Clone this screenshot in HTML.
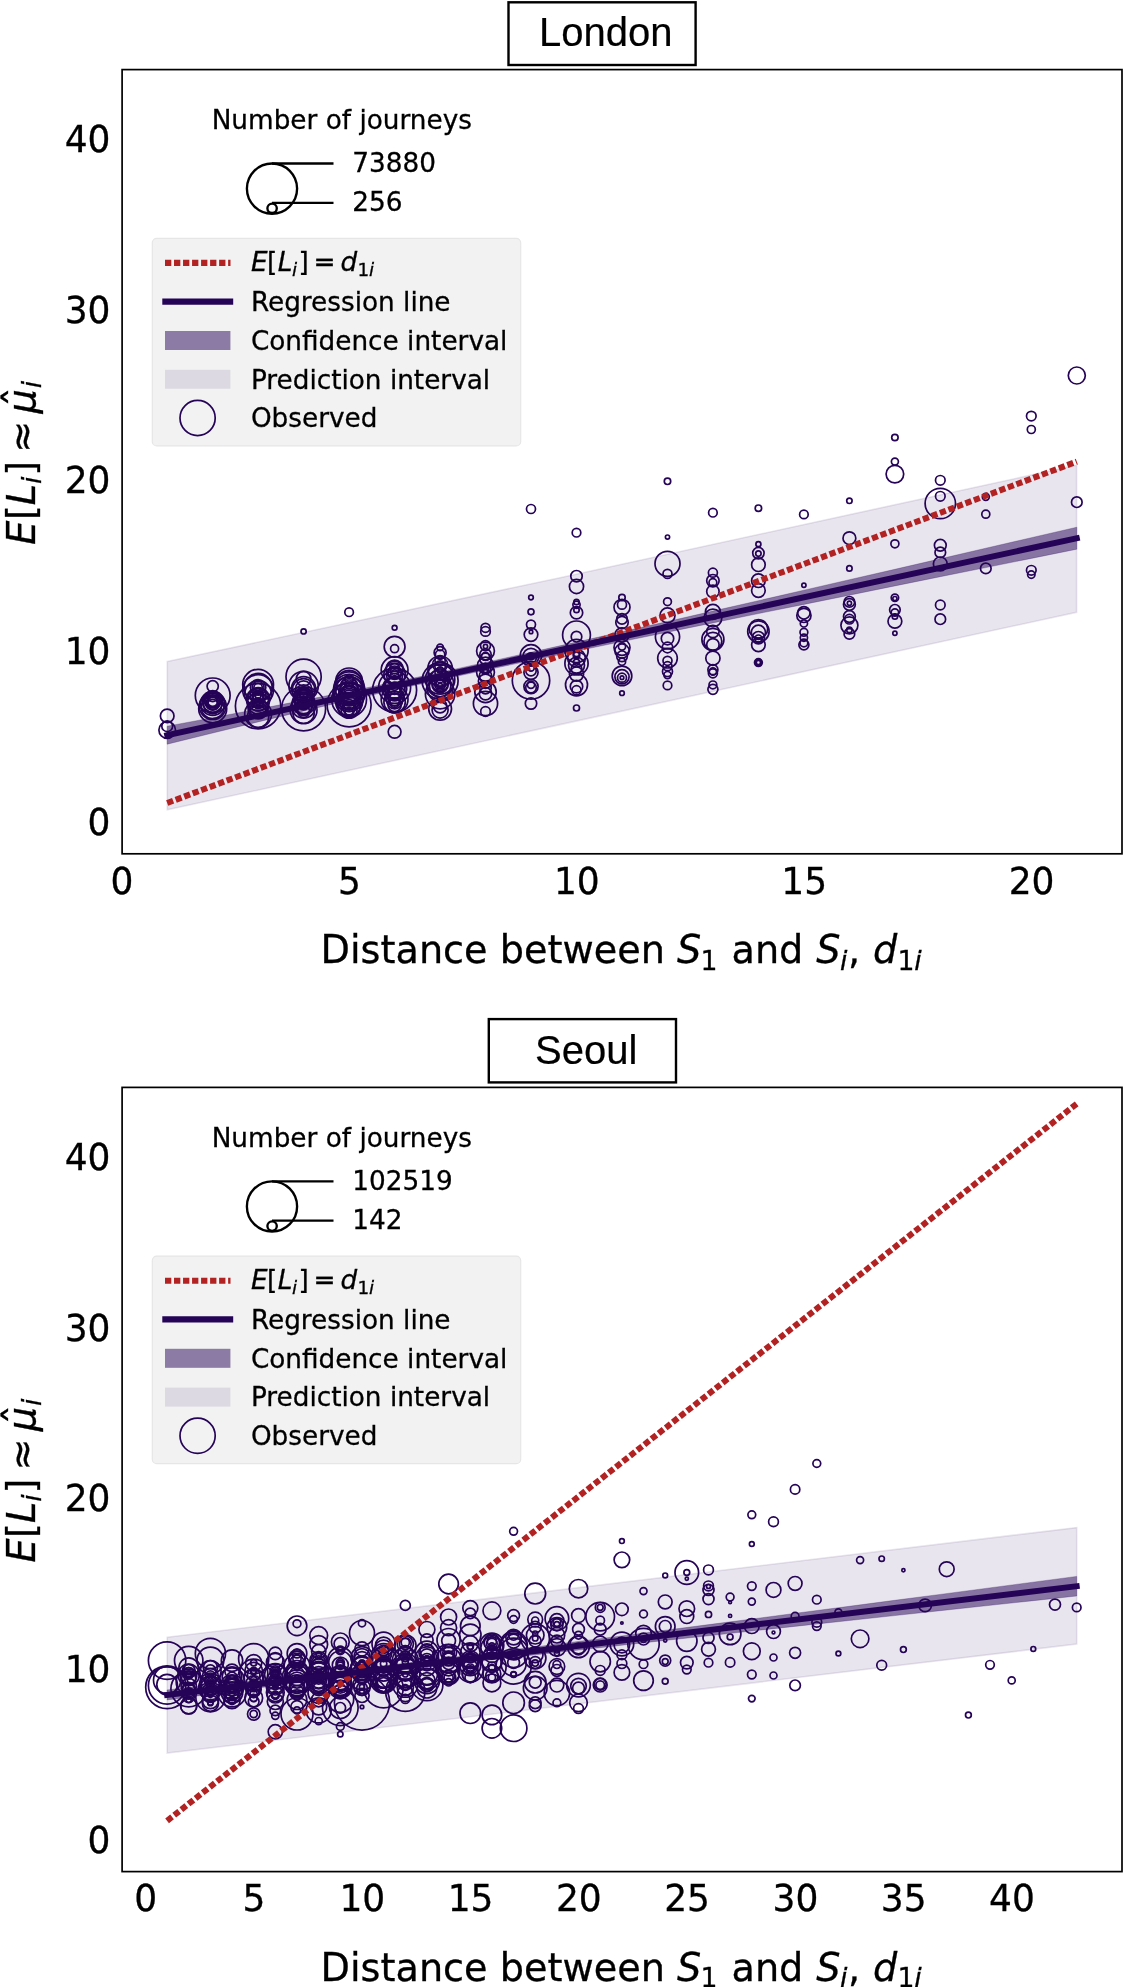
<!DOCTYPE html>
<html lang="en">
<head>
<meta charset="utf-8">
<title>Expected journey length vs distance: London and Seoul</title>
<style>
html,body{margin:0;padding:0;background:#fff;}
body{width:1123px;height:1987px;overflow:hidden;}
svg{display:block;will-change:transform;}
text{font-family:"DejaVu Sans","Liberation Sans",sans-serif;fill:#000;stroke:#000;stroke-width:0.3px;}
.tk text{font-size:36px;}
.lb text,.lb{font-size:38.2px;}
.lg text,.lg{font-size:26.3px;}
.tt{font-family:"Liberation Sans",Arial,sans-serif;font-size:40px;stroke-width:0.2px;}
.it{font-style:italic;}
.lb text.sub{font-size:26.7px;}
.lg text.sub2{font-size:18.4px;}
.lb text.hat{font-size:40px;}
</style>
</head>
<body>
<svg width="1123" height="1987" viewBox="0 0 1123 1987">
<rect width="1123" height="1987" fill="#fff"/>
<!-- London panel -->
<g id="london">
<polygon points="167.3,661.5 560,577.7 1076.6,465.2 1076.6,612.3 560,724.6 167.3,809.8" fill="#250357" fill-opacity="0.1" stroke="#250357" stroke-opacity="0.1" stroke-width="1.6" stroke-linejoin="miter"/>
<polygon points="167.2,726.2 212.7,717.7 258.1,709.1 303.6,700.3 349.1,691.4 394.6,682.1 440.1,672.4 485.5,662.4 531,652.3 576.5,642.1 622,631.8 667.5,621.5 712.9,611.1 758.4,600.7 803.9,590.2 849.4,579.7 894.9,569.3 940.3,558.8 985.8,548.2 1031.3,537.7 1076.8,527.2 1076.8,549.2 1031.3,558.4 985.8,567.6 940.3,576.7 894.9,585.9 849.4,595.2 803.9,604.4 758.4,613.6 712.9,622.9 667.5,632.2 622,641.6 576.5,651 531,660.5 485.5,670.1 440.1,679.8 394.6,689.8 349.1,700.2 303.6,711 258.1,721.9 212.7,733 167.2,744.2" fill="#250357" fill-opacity="0.5" stroke="#250357" stroke-opacity="0.25" stroke-width="1"/>
<g fill="none" stroke="#250357" stroke-width="1.7">
<circle cx="167.2" cy="715.9" r="6.8"/>
<circle cx="167.2" cy="730" r="8.3"/>
<circle cx="167.2" cy="726.2" r="5.4"/>
<circle cx="212.7" cy="695.4" r="17.4"/>
<circle cx="212.7" cy="686.3" r="5.6"/>
<circle cx="212.7" cy="701.4" r="8"/>
<circle cx="212.7" cy="702.1" r="10"/>
<circle cx="212.7" cy="703.4" r="12"/>
<circle cx="212.7" cy="706.1" r="13.4"/>
<circle cx="212.7" cy="708.8" r="14"/>
<circle cx="212.7" cy="703.4" r="6.7"/>
<circle cx="212.7" cy="707.4" r="11.4"/>
<circle cx="212.7" cy="704.8" r="9.1"/>
<circle cx="258.1" cy="684.7" r="15.4"/>
<circle cx="258.1" cy="687.4" r="14"/>
<circle cx="258.1" cy="690.1" r="15.4"/>
<circle cx="258.1" cy="694.1" r="13.4"/>
<circle cx="258.1" cy="696.1" r="8"/>
<circle cx="258.1" cy="696.1" r="2.7"/>
<circle cx="258.1" cy="696.7" r="6"/>
<circle cx="258.1" cy="706.1" r="22.7"/>
<circle cx="258.1" cy="703.4" r="10.7"/>
<circle cx="258.1" cy="708.8" r="10"/>
<circle cx="258.1" cy="714.1" r="13.4"/>
<circle cx="258.1" cy="716.8" r="10.7"/>
<circle cx="258.1" cy="703.4" r="5.3"/>
<circle cx="258.1" cy="710.1" r="8"/>
<circle cx="303.6" cy="676.7" r="17.6"/>
<circle cx="303.6" cy="678.7" r="7.3"/>
<circle cx="303.6" cy="686.1" r="14.7"/>
<circle cx="303.6" cy="688.7" r="12"/>
<circle cx="303.6" cy="694.1" r="9.3"/>
<circle cx="303.6" cy="696.1" r="6.7"/>
<circle cx="303.6" cy="696.7" r="4"/>
<circle cx="303.6" cy="708.8" r="22"/>
<circle cx="303.6" cy="706.1" r="12"/>
<circle cx="303.6" cy="710.1" r="13.4"/>
<circle cx="303.6" cy="712.8" r="10.7"/>
<circle cx="303.6" cy="703.4" r="11.4"/>
<circle cx="303.6" cy="700.8" r="8"/>
<circle cx="303.6" cy="698.1" r="10"/>
<circle cx="303.6" cy="707.4" r="8"/>
<circle cx="303.6" cy="711.4" r="6"/>
<circle cx="349.1" cy="704.8" r="22"/>
<circle cx="349.1" cy="681.4" r="13.4"/>
<circle cx="349.1" cy="690.1" r="13.4"/>
<circle cx="349.1" cy="692.8" r="16"/>
<circle cx="349.1" cy="696.8" r="14.7"/>
<circle cx="349.1" cy="699.5" r="17.4"/>
<circle cx="349.1" cy="702.1" r="13.4"/>
<circle cx="349.1" cy="704.8" r="12"/>
<circle cx="349.1" cy="707.5" r="10.7"/>
<circle cx="349.1" cy="688.8" r="5.3"/>
<circle cx="349.1" cy="710.1" r="8"/>
<circle cx="349.1" cy="704.8" r="5.3"/>
<circle cx="349.1" cy="711.5" r="4"/>
<circle cx="349.1" cy="694.1" r="9.3"/>
<circle cx="349.1" cy="698.1" r="11.4"/>
<circle cx="349.1" cy="700.8" r="8"/>
<circle cx="349.1" cy="708.8" r="6"/>
<circle cx="349.1" cy="687.4" r="8.7"/>
<circle cx="394.6" cy="646.7" r="10.4"/>
<circle cx="394.6" cy="648.7" r="4"/>
<circle cx="394.6" cy="670.1" r="13.4"/>
<circle cx="394.6" cy="674.1" r="10.7"/>
<circle cx="394.6" cy="672.7" r="6.7"/>
<circle cx="394.6" cy="671.4" r="4"/>
<circle cx="394.6" cy="690.1" r="22"/>
<circle cx="394.6" cy="687.4" r="16"/>
<circle cx="394.6" cy="699.5" r="13.4"/>
<circle cx="394.6" cy="702.1" r="10.7"/>
<circle cx="394.6" cy="700.8" r="8"/>
<circle cx="394.6" cy="704.8" r="6.7"/>
<circle cx="394.6" cy="675.4" r="8"/>
<circle cx="394.6" cy="731.8" r="6.4"/>
<circle cx="394.6" cy="696.8" r="9.3"/>
<circle cx="394.6" cy="702.8" r="4.7"/>
<circle cx="394.6" cy="670.1" r="8.7"/>
<circle cx="394.6" cy="699.5" r="6"/>
<circle cx="440.1" cy="647.4" r="3.3"/>
<circle cx="440.1" cy="652.7" r="6"/>
<circle cx="440.1" cy="654.7" r="4.7"/>
<circle cx="440.1" cy="666.1" r="5.3"/>
<circle cx="440.1" cy="680.8" r="18"/>
<circle cx="440.1" cy="679.4" r="14.7"/>
<circle cx="440.1" cy="683.4" r="13.4"/>
<circle cx="440.1" cy="686.1" r="10.7"/>
<circle cx="440.1" cy="683.4" r="8"/>
<circle cx="440.1" cy="684.8" r="5.3"/>
<circle cx="440.1" cy="686.1" r="2.7"/>
<circle cx="440.1" cy="708.8" r="11.4"/>
<circle cx="440.1" cy="710.1" r="8"/>
<circle cx="440.1" cy="706.1" r="6.7"/>
<circle cx="440.1" cy="674.1" r="12"/>
<circle cx="440.1" cy="694.1" r="14.7"/>
<circle cx="440.1" cy="688.8" r="12.7"/>
<circle cx="440.1" cy="678.1" r="9.3"/>
<circle cx="303.6" cy="631.4" r="2.6"/>
<circle cx="349.1" cy="612.2" r="4.3"/>
<circle cx="394.6" cy="627.7" r="2.4"/>
<circle cx="485.5" cy="627.8" r="4.5"/>
<circle cx="485.5" cy="631.4" r="4.8"/>
<circle cx="485.5" cy="645.6" r="5"/>
<circle cx="485.5" cy="646.5" r="2.1"/>
<circle cx="485.5" cy="651" r="8.9"/>
<circle cx="485.5" cy="656.3" r="3.9"/>
<circle cx="485.5" cy="665.2" r="8"/>
<circle cx="485.5" cy="672.3" r="8.9"/>
<circle cx="485.5" cy="675.9" r="6.2"/>
<circle cx="485.5" cy="691.9" r="10.7"/>
<circle cx="485.5" cy="693.7" r="6.2"/>
<circle cx="485.5" cy="703.5" r="12.1"/>
<circle cx="485.5" cy="711.5" r="4.8"/>
<circle cx="485.5" cy="681.2" r="7.1"/>
<circle cx="485.5" cy="668.8" r="5.3"/>
<circle cx="531" cy="509" r="4.5"/>
<circle cx="531" cy="597.5" r="2.3"/>
<circle cx="531" cy="611.8" r="3"/>
<circle cx="531" cy="624.6" r="4.5"/>
<circle cx="531" cy="631.9" r="1.8"/>
<circle cx="531" cy="634.6" r="6.8"/>
<circle cx="531" cy="655.4" r="10.7"/>
<circle cx="531" cy="656.3" r="8"/>
<circle cx="531" cy="658.1" r="5.3"/>
<circle cx="531" cy="680.4" r="18.7"/>
<circle cx="531" cy="672.3" r="7.1"/>
<circle cx="531" cy="686.6" r="7.1"/>
<circle cx="531" cy="687.5" r="5.3"/>
<circle cx="531" cy="684.8" r="3.6"/>
<circle cx="531" cy="703.5" r="5.7"/>
<circle cx="576.5" cy="532.7" r="4.3"/>
<circle cx="576.5" cy="576.2" r="5.7"/>
<circle cx="576.5" cy="586.5" r="7.1"/>
<circle cx="576.5" cy="602" r="2.7"/>
<circle cx="576.5" cy="604.7" r="3.6"/>
<circle cx="576.5" cy="610" r="2.7"/>
<circle cx="576.5" cy="612.7" r="6.2"/>
<circle cx="576.5" cy="634.9" r="13.9"/>
<circle cx="576.5" cy="636.7" r="5.3"/>
<circle cx="576.5" cy="651" r="11.6"/>
<circle cx="576.5" cy="663.4" r="11.6"/>
<circle cx="576.5" cy="665.2" r="8"/>
<circle cx="576.5" cy="668.8" r="5.3"/>
<circle cx="576.5" cy="674.1" r="7.1"/>
<circle cx="576.5" cy="684.8" r="11"/>
<circle cx="576.5" cy="686.6" r="6.2"/>
<circle cx="576.5" cy="690.2" r="4.5"/>
<circle cx="576.5" cy="708" r="3"/>
<circle cx="576.5" cy="658.1" r="8.9"/>
<circle cx="622" cy="597.5" r="3.2"/>
<circle cx="622" cy="607.3" r="8"/>
<circle cx="622" cy="604.7" r="4.5"/>
<circle cx="622" cy="618.9" r="5.3"/>
<circle cx="622" cy="622.5" r="6.2"/>
<circle cx="622" cy="634.9" r="7.1"/>
<circle cx="622" cy="647.4" r="8"/>
<circle cx="622" cy="646.5" r="3.6"/>
<circle cx="622" cy="656.3" r="5.3"/>
<circle cx="622" cy="661.7" r="3.6"/>
<circle cx="622" cy="675.9" r="9.8"/>
<circle cx="622" cy="676.8" r="7.1"/>
<circle cx="622" cy="677.7" r="4.5"/>
<circle cx="622" cy="677.7" r="1.8"/>
<circle cx="622" cy="693.2" r="2.3"/>
<circle cx="622" cy="651" r="7.1"/>
<circle cx="667.5" cy="481.3" r="3.2"/>
<circle cx="667.5" cy="537.1" r="2.1"/>
<circle cx="667.5" cy="563.8" r="12.5"/>
<circle cx="667.5" cy="573.9" r="4.5"/>
<circle cx="667.5" cy="601.7" r="3.9"/>
<circle cx="667.5" cy="615.4" r="7.5"/>
<circle cx="667.5" cy="636.8" r="12.1"/>
<circle cx="667.5" cy="638.6" r="6.2"/>
<circle cx="667.5" cy="647.5" r="5.3"/>
<circle cx="667.5" cy="658.2" r="9.8"/>
<circle cx="667.5" cy="660.8" r="4.5"/>
<circle cx="667.5" cy="666.2" r="4.5"/>
<circle cx="667.5" cy="671.5" r="5"/>
<circle cx="667.5" cy="675.1" r="3.6"/>
<circle cx="667.5" cy="685.4" r="4.3"/>
<circle cx="712.9" cy="512.7" r="4.3"/>
<circle cx="712.9" cy="572.7" r="4.5"/>
<circle cx="712.9" cy="580.7" r="6.2"/>
<circle cx="712.9" cy="582.5" r="3.9"/>
<circle cx="712.9" cy="591.4" r="6.2"/>
<circle cx="712.9" cy="611.9" r="7.5"/>
<circle cx="712.9" cy="618.1" r="8.9"/>
<circle cx="712.9" cy="631.5" r="6.2"/>
<circle cx="712.9" cy="639.5" r="11"/>
<circle cx="712.9" cy="641.2" r="8.9"/>
<circle cx="712.9" cy="644.8" r="6.2"/>
<circle cx="712.9" cy="658.2" r="7.1"/>
<circle cx="712.9" cy="669.7" r="5"/>
<circle cx="712.9" cy="671.5" r="3.6"/>
<circle cx="712.9" cy="673.3" r="4.5"/>
<circle cx="712.9" cy="684.9" r="3.9"/>
<circle cx="712.9" cy="689.3" r="5"/>
<circle cx="758.4" cy="508.2" r="3.2"/>
<circle cx="758.4" cy="544.2" r="2.5"/>
<circle cx="758.4" cy="553.1" r="5.7"/>
<circle cx="758.4" cy="553.6" r="2.7"/>
<circle cx="758.4" cy="564.7" r="6.8"/>
<circle cx="758.4" cy="580.7" r="6.8"/>
<circle cx="758.4" cy="590.5" r="6.8"/>
<circle cx="758.4" cy="628.8" r="9.3"/>
<circle cx="758.4" cy="631.5" r="10.7"/>
<circle cx="758.4" cy="632.3" r="7.1"/>
<circle cx="758.4" cy="637.7" r="6.2"/>
<circle cx="758.4" cy="638.6" r="3.6"/>
<circle cx="758.4" cy="644.8" r="6.8"/>
<circle cx="758.4" cy="662.6" r="3.9"/>
<circle cx="758.4" cy="662.6" r="3"/>
<circle cx="758.4" cy="662.6" r="2.1"/>
<circle cx="803.9" cy="514.4" r="4.3"/>
<circle cx="803.9" cy="585.3" r="2.1"/>
<circle cx="803.9" cy="612.8" r="6.2"/>
<circle cx="803.9" cy="615.4" r="7.1"/>
<circle cx="803.9" cy="623.4" r="3.6"/>
<circle cx="803.9" cy="632.3" r="3.9"/>
<circle cx="803.9" cy="637.7" r="3.6"/>
<circle cx="803.9" cy="643" r="3.9"/>
<circle cx="803.9" cy="644.8" r="5"/>
<circle cx="849.4" cy="500.8" r="2.7"/>
<circle cx="849.4" cy="538.2" r="6.4"/>
<circle cx="849.4" cy="568.4" r="2.7"/>
<circle cx="849.4" cy="601.8" r="5.3"/>
<circle cx="849.4" cy="604.5" r="5.9"/>
<circle cx="849.4" cy="616.5" r="5.9"/>
<circle cx="849.4" cy="619.2" r="4.8"/>
<circle cx="849.4" cy="625.3" r="8.5"/>
<circle cx="849.4" cy="629.9" r="2.7"/>
<circle cx="849.4" cy="633.9" r="5.3"/>
<circle cx="849.4" cy="603.2" r="2.1"/>
<circle cx="894.9" cy="437.5" r="3.2"/>
<circle cx="894.9" cy="461.6" r="3.5"/>
<circle cx="894.9" cy="474.1" r="8.8"/>
<circle cx="894.9" cy="543.8" r="4"/>
<circle cx="894.9" cy="597.8" r="3.7"/>
<circle cx="894.9" cy="598.6" r="2.1"/>
<circle cx="894.9" cy="609.8" r="5.3"/>
<circle cx="894.9" cy="612.5" r="3.7"/>
<circle cx="894.9" cy="616.5" r="2.7"/>
<circle cx="894.9" cy="621.3" r="6.9"/>
<circle cx="894.9" cy="633.3" r="2.1"/>
<circle cx="940.3" cy="480.3" r="4.8"/>
<circle cx="940.3" cy="496.3" r="4.8"/>
<circle cx="940.3" cy="503.5" r="15.2"/>
<circle cx="940.3" cy="545.2" r="5.9"/>
<circle cx="940.3" cy="552.4" r="5.3"/>
<circle cx="940.3" cy="563.9" r="6.9"/>
<circle cx="940.3" cy="605" r="4.8"/>
<circle cx="940.3" cy="619.2" r="5.3"/>
<circle cx="985.8" cy="496.8" r="3.5"/>
<circle cx="985.8" cy="514.2" r="4"/>
<circle cx="985.8" cy="568.4" r="5.3"/>
<circle cx="1031.3" cy="416.1" r="4.8"/>
<circle cx="1031.3" cy="429.5" r="4"/>
<circle cx="1031.3" cy="570.3" r="4.8"/>
<circle cx="1031.3" cy="574.6" r="3.7"/>
<circle cx="1076.8" cy="375.5" r="8.5"/>
<circle cx="1076.8" cy="502.2" r="5.3"/>
<circle cx="212.7" cy="699.3" r="8.7"/>
<circle cx="212.7" cy="702.4" r="5.1"/>
<circle cx="212.7" cy="696.6" r="5"/>
<circle cx="212.7" cy="699.5" r="7.4"/>
<circle cx="212.7" cy="704.5" r="5.1"/>
<circle cx="212.7" cy="701.3" r="5.1"/>
<circle cx="258.1" cy="687.5" r="4.2"/>
<circle cx="258.1" cy="702.6" r="4.7"/>
<circle cx="258.1" cy="687.4" r="7.7"/>
<circle cx="258.1" cy="687.3" r="5.9"/>
<circle cx="258.1" cy="699.3" r="11.6"/>
<circle cx="258.1" cy="697.2" r="5.1"/>
<circle cx="258.1" cy="699.4" r="5.2"/>
<circle cx="258.1" cy="699.9" r="10.9"/>
<circle cx="303.6" cy="699.5" r="8.9"/>
<circle cx="303.6" cy="704" r="5.9"/>
<circle cx="303.6" cy="693.2" r="4.1"/>
<circle cx="303.6" cy="694.9" r="4.6"/>
<circle cx="303.6" cy="692.5" r="5.4"/>
<circle cx="303.6" cy="689" r="8.2"/>
<circle cx="303.6" cy="690" r="11.3"/>
<circle cx="303.6" cy="697.4" r="9.8"/>
<circle cx="303.6" cy="696" r="7.5"/>
<circle cx="303.6" cy="704.8" r="8.9"/>
<circle cx="349.1" cy="690" r="15.6"/>
<circle cx="349.1" cy="684.3" r="4.3"/>
<circle cx="349.1" cy="679.1" r="4.4"/>
<circle cx="349.1" cy="697.4" r="7.3"/>
<circle cx="349.1" cy="702.3" r="9.4"/>
<circle cx="349.1" cy="693.7" r="8.4"/>
<circle cx="349.1" cy="695.7" r="10.2"/>
<circle cx="349.1" cy="685.9" r="8.7"/>
<circle cx="349.1" cy="683.1" r="12.8"/>
<circle cx="349.1" cy="686.6" r="14.8"/>
<circle cx="349.1" cy="679.1" r="4.1"/>
<circle cx="349.1" cy="692.7" r="10.3"/>
<circle cx="394.6" cy="668.7" r="8.5"/>
<circle cx="394.6" cy="668.7" r="5"/>
<circle cx="394.6" cy="673.9" r="4"/>
<circle cx="394.6" cy="692.7" r="6.5"/>
<circle cx="394.6" cy="686.2" r="4.1"/>
<circle cx="394.6" cy="687.9" r="10.2"/>
<circle cx="394.6" cy="688.6" r="5.8"/>
<circle cx="394.6" cy="688.9" r="11.8"/>
<circle cx="394.6" cy="692.5" r="7.4"/>
<circle cx="394.6" cy="688.7" r="12"/>
<circle cx="440.1" cy="683.7" r="4"/>
<circle cx="440.1" cy="660.8" r="5.1"/>
<circle cx="440.1" cy="664.3" r="7.5"/>
<circle cx="440.1" cy="689.6" r="3.3"/>
<circle cx="440.1" cy="679" r="3.7"/>
<circle cx="440.1" cy="681.9" r="5.7"/>
<circle cx="440.1" cy="670.1" r="3"/>
<circle cx="440.1" cy="672.4" r="5.1"/>
<circle cx="440.1" cy="668.2" r="12.2"/>
<circle cx="440.1" cy="684.6" r="8.1"/>
<circle cx="485.5" cy="654.7" r="5.7"/>
<circle cx="485.5" cy="669.6" r="3"/>
<circle cx="485.5" cy="688.1" r="5.7"/>
<circle cx="485.5" cy="658.9" r="5.7"/>
<circle cx="531" cy="656.5" r="3.1"/>
<circle cx="531" cy="670.7" r="5.2"/>
<circle cx="531" cy="667.9" r="3.3"/>
<circle cx="576.5" cy="653.5" r="3.2"/>
<circle cx="576.5" cy="649.1" r="3"/>
<circle cx="576.5" cy="655.4" r="3.2"/>
<circle cx="576.5" cy="662.2" r="3"/>
</g>
<line x1="167.2" y1="803" x2="1076.8" y2="461.6" stroke="#b22222" stroke-width="6.05" stroke-dasharray="6.3 2.77"/>
<line x1="167.2" y1="735.2" x2="1076.8" y2="538.2" stroke="#250357" stroke-width="5.9" stroke-linecap="square"/>
<rect x="122.1" y="69.6" width="999.9" height="784.2" fill="none" stroke="#000" stroke-width="1.7"/>
<g class="tk" text-anchor="middle">
<text transform="translate(122,893.6) scale(1,1.012)">0</text>
<text transform="translate(349.4,893.6) scale(1,1.012)">5</text>
<text transform="translate(576.8,893.6) scale(1,1.012)">10</text>
<text transform="translate(804.2,893.6) scale(1,1.012)">15</text>
<text transform="translate(1031.6,893.6) scale(1,1.012)">20</text>
</g>
<g class="tk" text-anchor="end">
<text transform="translate(110.5,834.8) scale(1,1.04)">0</text>
<text transform="translate(110.5,664) scale(1,1.04)">10</text>
<text transform="translate(110.5,493.3) scale(1,1.04)">20</text>
<text transform="translate(110.5,322.6) scale(1,1.04)">30</text>
<text transform="translate(110.5,151.9) scale(1,1.04)">40</text>
</g>
<g class="lb">
<text x="320.6" y="962.7">Distance between</text>
<text x="677" y="962.7" class="it">S</text>
<text x="700.6" y="969.5" class="sub">1</text>
<text x="731.5" y="962.7">and</text>
<text x="816.3" y="962.7" class="it">S</text>
<text x="839.9" y="969.5" class="sub it">i</text>
<text x="848" y="962.7">,</text>
<text x="873.1" y="962.7" class="it">d</text>
<text x="897.5" y="969.5" class="sub">1</text>
<text x="914.2" y="969.5" class="sub it">i</text>
</g>
<g class="lb" transform="translate(34.8,544) rotate(-90)">
<text x="-0.8" y="0" class="it">E</text>
<text x="23.9" y="0">[</text>
<text x="38.7" y="0" class="it">L</text>
<text x="60.1" y="6.2" class="sub it">i</text>
<text x="68.3" y="0">]</text>
<text x="91.3" y="0">≈</text>
<text x="130.6" y="0" class="it">μ</text>
<text x="155.8" y="6.2" class="sub it">i</text>
<text x="137" y="-1.9" class="hat">ˆ</text>
</g>
<rect x="508.5" y="2.3" width="187.1" height="62.7" fill="#fff" stroke="#000" stroke-width="2.4"/>
<text class="tt" x="539" y="46.3">London</text>
<text class="lg" x="211.7" y="129.2">Number of journeys</text>
<g fill="none" stroke="#000" stroke-width="2.35">
<circle cx="272" cy="188.6" r="25.1"/>
<circle cx="272.1" cy="208.3" r="4.7"/>
<line x1="272" y1="163.5" x2="333.5" y2="163.5"/>
<line x1="272" y1="202.8" x2="333.5" y2="202.8"/>
</g>
<text class="lg" x="352.3" y="171.8">73880</text>
<text class="lg" x="352.3" y="211.1">256</text>
<rect x="152.3" y="238.3" width="368.4" height="207.6" rx="4.5" fill="#f2f2f2" stroke="#e6e6e6" stroke-width="1.2"/>
<line x1="165" y1="262.9" x2="230.5" y2="262.9" stroke="#b22222" stroke-width="6.1" stroke-dasharray="6.3 2.72"/>
<line x1="162.3" y1="301.6" x2="233.2" y2="301.6" stroke="#250357" stroke-width="6.2"/>
<rect x="165" y="331" width="65.4" height="19" fill="#250357" fill-opacity="0.5"/>
<rect x="165" y="369.8" width="65.4" height="19" fill="#250357" fill-opacity="0.1"/>
<circle cx="197.6" cy="418" r="17.6" fill="none" stroke="#250357" stroke-width="1.7"/>
<g class="lg">
<text x="251.1" y="271.4" class="it">E</text>
<text x="267.1" y="271.4">[</text>
<text x="277.8" y="271.4" class="it">L</text>
<text x="292" y="275.7" class="sub2 it">i</text>
<text x="298.5" y="271.4">]</text>
<text x="313.4" y="271.4">=</text>
<text x="340.5" y="271.4" class="it">d</text>
<text x="357.6" y="275.7" class="sub2">1</text>
<text x="368.9" y="275.7" class="sub2 it">i</text>
</g>
<text class="lg" x="250.9" y="311">Regression line</text>
<text class="lg" x="250.9" y="349.7">Confidence interval</text>
<text class="lg" x="250.9" y="388.5">Prediction interval</text>
<text class="lg" x="250.9" y="427.2">Observed</text>
</g>
<!-- Seoul panel -->
<g id="seoul">
<polygon points="167.2,1637.2 1076.7,1527.6 1076.7,1644.1 167.2,1753.1" fill="#250357" fill-opacity="0.1" stroke="#250357" stroke-opacity="0.1" stroke-width="1.6" stroke-linejoin="miter"/>
<polygon points="167.1,1689.9 212.5,1685.1 258,1680.1 303.5,1675.1 349,1669.8 394.5,1664.4 439.9,1658.9 485.4,1653.2 530.9,1647.5 576.4,1641.7 621.9,1635.9 667.3,1630 712.8,1624.1 758.3,1618.2 803.8,1612.2 849.3,1606.3 894.7,1600.3 940.2,1594.4 985.7,1588.4 1031.2,1582.4 1076.7,1576.4 1076.7,1596 1031.2,1600.9 985.7,1605.8 940.2,1610.7 894.7,1615.6 849.3,1620.5 803.8,1625.4 758.3,1630.3 712.8,1635.3 667.3,1640.2 621.9,1645.2 576.4,1650.3 530.9,1655.3 485.4,1660.5 439.9,1665.7 394.5,1671 349,1676.5 303.5,1682.1 258,1687.9 212.5,1693.9 167.1,1699.9" fill="#250357" fill-opacity="0.5" stroke="#250357" stroke-opacity="0.25" stroke-width="1"/>
<g fill="none" stroke="#250357" stroke-width="1.7">
<circle cx="167.1" cy="1660.6" r="18.7"/>
<circle cx="167.1" cy="1687.3" r="21.4"/>
<circle cx="167.1" cy="1685.5" r="18.7"/>
<circle cx="188.7" cy="1660.6" r="14.2"/>
<circle cx="188.7" cy="1674.8" r="10.7"/>
<circle cx="188.7" cy="1689" r="17.8"/>
<circle cx="188.7" cy="1678.4" r="7.1"/>
<circle cx="188.7" cy="1667.7" r="9.8"/>
<circle cx="188.7" cy="1681.9" r="12.5"/>
<circle cx="188.7" cy="1673" r="5.3"/>
<circle cx="210.4" cy="1653.4" r="15.1"/>
<circle cx="210.4" cy="1660.6" r="13.4"/>
<circle cx="210.4" cy="1671.2" r="10.7"/>
<circle cx="210.4" cy="1676.6" r="8"/>
<circle cx="210.4" cy="1680.1" r="5.3"/>
<circle cx="210.4" cy="1692.6" r="8.9"/>
<circle cx="210.4" cy="1702.4" r="2.7"/>
<circle cx="210.4" cy="1667.7" r="7.1"/>
<circle cx="210.4" cy="1683.7" r="10.7"/>
<circle cx="232" cy="1660.6" r="10.7"/>
<circle cx="232" cy="1676.6" r="9.8"/>
<circle cx="232" cy="1683.7" r="8"/>
<circle cx="232" cy="1692.6" r="10.7"/>
<circle cx="232" cy="1694.4" r="6.2"/>
<circle cx="232" cy="1671.2" r="7.1"/>
<circle cx="232" cy="1680.1" r="4.5"/>
<circle cx="232" cy="1687.3" r="8.9"/>
<circle cx="253.7" cy="1658.8" r="15.1"/>
<circle cx="253.7" cy="1671.2" r="8.9"/>
<circle cx="253.7" cy="1674.8" r="6.2"/>
<circle cx="253.7" cy="1683.7" r="8"/>
<circle cx="253.7" cy="1698" r="8.9"/>
<circle cx="253.7" cy="1701.5" r="5.3"/>
<circle cx="253.7" cy="1714" r="6.2"/>
<circle cx="253.7" cy="1714" r="3.6"/>
<circle cx="253.7" cy="1689" r="7.1"/>
<circle cx="253.7" cy="1678.4" r="9.8"/>
<circle cx="275.3" cy="1653.4" r="6.2"/>
<circle cx="275.3" cy="1662.3" r="8.9"/>
<circle cx="275.3" cy="1674.8" r="10.7"/>
<circle cx="275.3" cy="1680.1" r="6.2"/>
<circle cx="275.3" cy="1692.6" r="8.9"/>
<circle cx="275.3" cy="1701.5" r="8"/>
<circle cx="275.3" cy="1710.4" r="5.3"/>
<circle cx="275.3" cy="1715.8" r="3.6"/>
<circle cx="275.3" cy="1731.8" r="7.1"/>
<circle cx="275.3" cy="1685.5" r="8"/>
<circle cx="275.3" cy="1671.2" r="5.3"/>
<circle cx="297" cy="1625.8" r="9.8"/>
<circle cx="297" cy="1623.7" r="3.9"/>
<circle cx="297" cy="1653.4" r="9.8"/>
<circle cx="297" cy="1653.4" r="4.5"/>
<circle cx="297" cy="1671.2" r="10.7"/>
<circle cx="297" cy="1680.1" r="8"/>
<circle cx="297" cy="1692.6" r="7.1"/>
<circle cx="297" cy="1699.7" r="9.8"/>
<circle cx="297" cy="1706.9" r="6.2"/>
<circle cx="297" cy="1714" r="16"/>
<circle cx="297" cy="1710.4" r="3.6"/>
<circle cx="297" cy="1685.5" r="10.7"/>
<circle cx="297" cy="1662.3" r="7.1"/>
<circle cx="318.7" cy="1635.6" r="8.9"/>
<circle cx="318.7" cy="1644.5" r="8.9"/>
<circle cx="318.7" cy="1651.6" r="7.1"/>
<circle cx="318.7" cy="1660.6" r="8.9"/>
<circle cx="318.7" cy="1671.2" r="9.8"/>
<circle cx="318.7" cy="1680.1" r="8"/>
<circle cx="318.7" cy="1692.6" r="10.7"/>
<circle cx="318.7" cy="1699.7" r="7.1"/>
<circle cx="318.7" cy="1710.4" r="12.5"/>
<circle cx="318.7" cy="1721.1" r="3.6"/>
<circle cx="318.7" cy="1685.5" r="6.2"/>
<circle cx="318.7" cy="1706.9" r="8"/>
<circle cx="340.3" cy="1641.9" r="8.9"/>
<circle cx="340.3" cy="1643.7" r="6.2"/>
<circle cx="340.3" cy="1665.1" r="8"/>
<circle cx="340.3" cy="1707.8" r="17.8"/>
<circle cx="340.3" cy="1707.8" r="10.7"/>
<circle cx="340.3" cy="1707.8" r="5.3"/>
<circle cx="340.3" cy="1726.5" r="3.9"/>
<circle cx="340.3" cy="1734.2" r="2.7"/>
<circle cx="340.3" cy="1684.7" r="10.7"/>
<circle cx="340.3" cy="1674" r="8.9"/>
<circle cx="340.3" cy="1659.7" r="12.5"/>
<circle cx="340.3" cy="1670.4" r="5.3"/>
<circle cx="340.3" cy="1691.8" r="7.1"/>
<circle cx="340.3" cy="1698.9" r="13.4"/>
<circle cx="362" cy="1623.2" r="3.6"/>
<circle cx="362" cy="1633" r="12.5"/>
<circle cx="362" cy="1649" r="7.1"/>
<circle cx="362" cy="1666.9" r="10.7"/>
<circle cx="362" cy="1684.7" r="8.9"/>
<circle cx="362" cy="1695.4" r="7.1"/>
<circle cx="362" cy="1706.9" r="1.8"/>
<circle cx="362" cy="1702.5" r="27.6"/>
<circle cx="362" cy="1659.7" r="8"/>
<circle cx="362" cy="1674" r="6.2"/>
<circle cx="362" cy="1677.5" r="12.5"/>
<circle cx="362" cy="1688.2" r="5.3"/>
<circle cx="383.6" cy="1643.7" r="11.6"/>
<circle cx="383.6" cy="1649" r="8.9"/>
<circle cx="383.6" cy="1659.7" r="12.5"/>
<circle cx="383.6" cy="1670.4" r="10.7"/>
<circle cx="383.6" cy="1681.1" r="10.7"/>
<circle cx="383.6" cy="1688.2" r="19.6"/>
<circle cx="383.6" cy="1684.7" r="7.1"/>
<circle cx="383.6" cy="1665.1" r="7.1"/>
<circle cx="383.6" cy="1674" r="14.2"/>
<circle cx="383.6" cy="1656.2" r="5.3"/>
<circle cx="405.3" cy="1605.4" r="5"/>
<circle cx="405.3" cy="1645.5" r="10.7"/>
<circle cx="405.3" cy="1652.6" r="7.1"/>
<circle cx="405.3" cy="1663.3" r="8.9"/>
<circle cx="405.3" cy="1674" r="7.1"/>
<circle cx="405.3" cy="1684.7" r="12.5"/>
<circle cx="405.3" cy="1693.6" r="8"/>
<circle cx="405.3" cy="1698.9" r="4.5"/>
<circle cx="405.3" cy="1691.8" r="19.6"/>
<circle cx="405.3" cy="1666.9" r="13.4"/>
<circle cx="405.3" cy="1677.5" r="9.8"/>
<circle cx="426.9" cy="1629.5" r="8"/>
<circle cx="426.9" cy="1640.1" r="6.2"/>
<circle cx="426.9" cy="1652.6" r="8"/>
<circle cx="426.9" cy="1666.9" r="8.9"/>
<circle cx="426.9" cy="1681.1" r="12.5"/>
<circle cx="426.9" cy="1684.7" r="7.1"/>
<circle cx="426.9" cy="1688.2" r="9.8"/>
<circle cx="426.9" cy="1684.7" r="16"/>
<circle cx="426.9" cy="1659.7" r="6.2"/>
<circle cx="426.9" cy="1674" r="10.7"/>
<circle cx="448.6" cy="1584" r="9.8"/>
<circle cx="448.6" cy="1617" r="8"/>
<circle cx="448.6" cy="1627.7" r="8"/>
<circle cx="448.6" cy="1640.1" r="11.6"/>
<circle cx="448.6" cy="1652.6" r="8"/>
<circle cx="448.6" cy="1666.9" r="8.9"/>
<circle cx="448.6" cy="1674" r="10.7"/>
<circle cx="448.6" cy="1677.5" r="7.1"/>
<circle cx="448.6" cy="1677.5" r="4.5"/>
<circle cx="448.6" cy="1659.7" r="12.5"/>
<circle cx="448.6" cy="1663.3" r="6.2"/>
<circle cx="470.3" cy="1608.1" r="7.5"/>
<circle cx="470.3" cy="1613.4" r="5.3"/>
<circle cx="470.3" cy="1625.9" r="9.8"/>
<circle cx="470.3" cy="1634.8" r="10.7"/>
<circle cx="470.3" cy="1643.7" r="8"/>
<circle cx="470.3" cy="1659.7" r="8.9"/>
<circle cx="470.3" cy="1666.9" r="7.1"/>
<circle cx="470.3" cy="1674" r="8"/>
<circle cx="470.3" cy="1677.5" r="5.3"/>
<circle cx="470.3" cy="1713.2" r="10.3"/>
<circle cx="470.3" cy="1652.6" r="9.8"/>
<circle cx="491.9" cy="1610.8" r="8.9"/>
<circle cx="491.9" cy="1641.9" r="8"/>
<circle cx="491.9" cy="1643.7" r="5.3"/>
<circle cx="491.9" cy="1645.5" r="2.7"/>
<circle cx="491.9" cy="1659.7" r="10.7"/>
<circle cx="491.9" cy="1674" r="8.9"/>
<circle cx="491.9" cy="1675.8" r="6.2"/>
<circle cx="491.9" cy="1677.5" r="3.6"/>
<circle cx="491.9" cy="1682.9" r="8.9"/>
<circle cx="491.9" cy="1714.9" r="9.8"/>
<circle cx="491.9" cy="1728.3" r="9.8"/>
<circle cx="491.9" cy="1666.9" r="14.2"/>
<circle cx="513.6" cy="1531.3" r="3.9"/>
<circle cx="513.6" cy="1615.6" r="5.9"/>
<circle cx="513.6" cy="1619.5" r="3.9"/>
<circle cx="513.6" cy="1641.1" r="6.9"/>
<circle cx="513.6" cy="1645" r="13.7"/>
<circle cx="513.6" cy="1652.8" r="14.7"/>
<circle cx="513.6" cy="1662.6" r="5.9"/>
<circle cx="513.6" cy="1666.5" r="17.6"/>
<circle cx="513.6" cy="1702.8" r="10.8"/>
<circle cx="513.6" cy="1728.2" r="13.3"/>
<circle cx="513.6" cy="1637.1" r="7.8"/>
<circle cx="513.6" cy="1635.2" r="4.9"/>
<circle cx="535.2" cy="1593.6" r="10.4"/>
<circle cx="535.2" cy="1619.5" r="7.4"/>
<circle cx="535.2" cy="1620.5" r="3.5"/>
<circle cx="535.2" cy="1635.2" r="8.8"/>
<circle cx="535.2" cy="1641.1" r="5.9"/>
<circle cx="535.2" cy="1654.8" r="7.8"/>
<circle cx="535.2" cy="1662.6" r="5.9"/>
<circle cx="535.2" cy="1682.2" r="10.8"/>
<circle cx="535.2" cy="1682.2" r="5.9"/>
<circle cx="535.2" cy="1702.8" r="5.9"/>
<circle cx="535.2" cy="1705.7" r="5.9"/>
<circle cx="535.2" cy="1688.1" r="11.8"/>
<circle cx="535.2" cy="1627.3" r="5.9"/>
<circle cx="556.9" cy="1618.5" r="11.8"/>
<circle cx="556.9" cy="1620.5" r="6.9"/>
<circle cx="556.9" cy="1622.4" r="3.9"/>
<circle cx="556.9" cy="1635.2" r="7.8"/>
<circle cx="556.9" cy="1641.1" r="5.9"/>
<circle cx="556.9" cy="1666.5" r="7.8"/>
<circle cx="556.9" cy="1664.6" r="3.9"/>
<circle cx="556.9" cy="1670.4" r="5.9"/>
<circle cx="556.9" cy="1685.1" r="6.9"/>
<circle cx="556.9" cy="1693" r="12.7"/>
<circle cx="556.9" cy="1702.8" r="3.9"/>
<circle cx="556.9" cy="1627.3" r="9.8"/>
<circle cx="578.5" cy="1588.7" r="9.2"/>
<circle cx="578.5" cy="1615.6" r="6.9"/>
<circle cx="578.5" cy="1629.3" r="5.9"/>
<circle cx="578.5" cy="1635.2" r="3.9"/>
<circle cx="578.5" cy="1645" r="8.8"/>
<circle cx="578.5" cy="1648.9" r="5.9"/>
<circle cx="578.5" cy="1685.1" r="11.8"/>
<circle cx="578.5" cy="1686.1" r="7.8"/>
<circle cx="578.5" cy="1688.1" r="5.9"/>
<circle cx="578.5" cy="1702.8" r="8.8"/>
<circle cx="578.5" cy="1708.6" r="4.9"/>
<circle cx="578.5" cy="1646.9" r="10.8"/>
<circle cx="600.2" cy="1607.4" r="4.9"/>
<circle cx="600.2" cy="1607.4" r="2.9"/>
<circle cx="600.2" cy="1616.6" r="14.3"/>
<circle cx="600.2" cy="1620.5" r="4.3"/>
<circle cx="600.2" cy="1629.3" r="5.9"/>
<circle cx="600.2" cy="1644" r="7.8"/>
<circle cx="600.2" cy="1661.6" r="10.2"/>
<circle cx="600.2" cy="1670.4" r="4.9"/>
<circle cx="600.2" cy="1684.2" r="5.9"/>
<circle cx="600.2" cy="1685.1" r="4.3"/>
<circle cx="600.2" cy="1685.1" r="6.9"/>
<circle cx="621.9" cy="1541.1" r="2.4"/>
<circle cx="621.9" cy="1559.8" r="7.8"/>
<circle cx="621.9" cy="1609.3" r="6.3"/>
<circle cx="621.9" cy="1623" r="1.2"/>
<circle cx="621.9" cy="1644" r="11.8"/>
<circle cx="621.9" cy="1645" r="7.8"/>
<circle cx="621.9" cy="1654.8" r="4.9"/>
<circle cx="621.9" cy="1663.6" r="4.9"/>
<circle cx="621.9" cy="1672.4" r="7.8"/>
<circle cx="643.5" cy="1591.1" r="3.5"/>
<circle cx="643.5" cy="1614" r="3.9"/>
<circle cx="643.5" cy="1633.2" r="7.8"/>
<circle cx="643.5" cy="1639.1" r="5.9"/>
<circle cx="643.5" cy="1644" r="15.7"/>
<circle cx="643.5" cy="1664.2" r="4.3"/>
<circle cx="643.5" cy="1680.6" r="9.8"/>
<circle cx="643.5" cy="1640.1" r="2.4"/>
<circle cx="665.2" cy="1575.4" r="2.4"/>
<circle cx="665.2" cy="1601.9" r="6.9"/>
<circle cx="665.2" cy="1626.4" r="9.8"/>
<circle cx="665.2" cy="1626.4" r="5.9"/>
<circle cx="665.2" cy="1640.5" r="1.6"/>
<circle cx="665.2" cy="1660.6" r="5.5"/>
<circle cx="665.2" cy="1661.6" r="2.9"/>
<circle cx="665.2" cy="1681.2" r="2.9"/>
<circle cx="686.8" cy="1572.5" r="11.8"/>
<circle cx="686.8" cy="1572.5" r="2.9"/>
<circle cx="686.8" cy="1578.8" r="1.6"/>
<circle cx="686.8" cy="1608.7" r="7.8"/>
<circle cx="686.8" cy="1616.6" r="6.9"/>
<circle cx="686.8" cy="1641.1" r="10.2"/>
<circle cx="686.8" cy="1662.6" r="6.3"/>
<circle cx="686.8" cy="1669.5" r="4.3"/>
<circle cx="708.5" cy="1569.9" r="4.9"/>
<circle cx="708.5" cy="1585.9" r="4.9"/>
<circle cx="708.5" cy="1586.5" r="2"/>
<circle cx="708.5" cy="1589.9" r="5.5"/>
<circle cx="708.5" cy="1599.1" r="5.5"/>
<circle cx="708.5" cy="1614.4" r="3.1"/>
<circle cx="708.5" cy="1637.9" r="5.5"/>
<circle cx="708.5" cy="1649.2" r="6.9"/>
<circle cx="708.5" cy="1662.7" r="4.3"/>
<circle cx="730.1" cy="1597.1" r="3.9"/>
<circle cx="730.1" cy="1602.2" r="1.4"/>
<circle cx="730.1" cy="1615.9" r="1.6"/>
<circle cx="730.1" cy="1633.9" r="10.8"/>
<circle cx="730.1" cy="1636.9" r="2.9"/>
<circle cx="730.1" cy="1662.4" r="4.7"/>
<circle cx="751.8" cy="1514.8" r="3.9"/>
<circle cx="751.8" cy="1544" r="2.4"/>
<circle cx="751.8" cy="1586.1" r="4.3"/>
<circle cx="751.8" cy="1601.6" r="3.5"/>
<circle cx="751.8" cy="1626.1" r="7.4"/>
<circle cx="751.8" cy="1651.2" r="8.4"/>
<circle cx="751.8" cy="1674.5" r="4.3"/>
<circle cx="751.8" cy="1698.6" r="3.3"/>
<circle cx="773.5" cy="1521.7" r="4.9"/>
<circle cx="773.5" cy="1589.9" r="7.4"/>
<circle cx="773.5" cy="1631.6" r="6.9"/>
<circle cx="773.5" cy="1632.4" r="1.4"/>
<circle cx="773.5" cy="1657.5" r="3.5"/>
<circle cx="773.5" cy="1675.5" r="3.5"/>
<circle cx="795.1" cy="1489.4" r="4.7"/>
<circle cx="795.1" cy="1583.4" r="6.9"/>
<circle cx="795.1" cy="1616.3" r="3.9"/>
<circle cx="795.1" cy="1652.8" r="5.5"/>
<circle cx="795.1" cy="1685.3" r="5.3"/>
<circle cx="816.8" cy="1463.5" r="3.9"/>
<circle cx="816.8" cy="1599.7" r="4.3"/>
<circle cx="816.8" cy="1622.2" r="4.9"/>
<circle cx="816.8" cy="1626.1" r="4.3"/>
<circle cx="838.4" cy="1612.4" r="3.5"/>
<circle cx="838.4" cy="1653.5" r="2.4"/>
<circle cx="860.1" cy="1560.1" r="3.5"/>
<circle cx="860.1" cy="1638.8" r="8.8"/>
<circle cx="881.7" cy="1558.7" r="2.7"/>
<circle cx="881.7" cy="1665.3" r="4.9"/>
<circle cx="903.4" cy="1570.3" r="1.6"/>
<circle cx="903.4" cy="1649.6" r="2.9"/>
<circle cx="925.1" cy="1605.4" r="6.3"/>
<circle cx="946.7" cy="1569.2" r="7.4"/>
<circle cx="968.4" cy="1715.1" r="2.9"/>
<circle cx="990" cy="1664.8" r="4.3"/>
<circle cx="1011.7" cy="1680.4" r="3.5"/>
<circle cx="1033.3" cy="1648.9" r="2.4"/>
<circle cx="1055" cy="1604.6" r="5.5"/>
<circle cx="1076.7" cy="1607.4" r="4.3"/>
<circle cx="188.7" cy="1675.8" r="8.1"/>
<circle cx="188.7" cy="1693.5" r="5.7"/>
<circle cx="188.7" cy="1674.7" r="3.1"/>
<circle cx="188.7" cy="1688.6" r="6.2"/>
<circle cx="188.7" cy="1675.9" r="2.7"/>
<circle cx="188.7" cy="1675.1" r="4"/>
<circle cx="188.7" cy="1705.8" r="8.1"/>
<circle cx="188.7" cy="1700.1" r="2.5"/>
<circle cx="188.7" cy="1705.8" r="8.1"/>
<circle cx="188.7" cy="1686.1" r="7.7"/>
<circle cx="188.7" cy="1690.4" r="6.5"/>
<circle cx="188.7" cy="1690.9" r="2.6"/>
<circle cx="188.7" cy="1692.3" r="2.5"/>
<circle cx="188.7" cy="1696.9" r="5.6"/>
<circle cx="188.7" cy="1670.6" r="6.3"/>
<circle cx="210.4" cy="1694.4" r="8.1"/>
<circle cx="210.4" cy="1670.5" r="5.6"/>
<circle cx="210.4" cy="1686.7" r="3.7"/>
<circle cx="210.4" cy="1703.2" r="8.1"/>
<circle cx="210.4" cy="1686.2" r="9.2"/>
<circle cx="210.4" cy="1683.6" r="3.8"/>
<circle cx="210.4" cy="1694" r="2.6"/>
<circle cx="210.4" cy="1687.9" r="11.8"/>
<circle cx="210.4" cy="1675.7" r="4.8"/>
<circle cx="210.4" cy="1703.2" r="2.5"/>
<circle cx="210.4" cy="1681.2" r="3.3"/>
<circle cx="210.4" cy="1697.2" r="14.6"/>
<circle cx="210.4" cy="1680.1" r="4.9"/>
<circle cx="210.4" cy="1700.6" r="8.1"/>
<circle cx="210.4" cy="1693.6" r="3.7"/>
<circle cx="232" cy="1692.6" r="14.2"/>
<circle cx="232" cy="1689.3" r="10.1"/>
<circle cx="232" cy="1690.2" r="2.7"/>
<circle cx="232" cy="1689.7" r="2.6"/>
<circle cx="232" cy="1686.1" r="6.9"/>
<circle cx="232" cy="1677.6" r="5.4"/>
<circle cx="232" cy="1690.6" r="2.8"/>
<circle cx="232" cy="1700.6" r="8.1"/>
<circle cx="232" cy="1692.7" r="3.3"/>
<circle cx="232" cy="1691.8" r="3.7"/>
<circle cx="232" cy="1700.6" r="4"/>
<circle cx="232" cy="1680.5" r="12.5"/>
<circle cx="232" cy="1686.8" r="11.9"/>
<circle cx="232" cy="1694.8" r="8.1"/>
<circle cx="232" cy="1700.6" r="3.3"/>
<circle cx="253.7" cy="1698" r="3.6"/>
<circle cx="253.7" cy="1682.9" r="3.9"/>
<circle cx="253.7" cy="1671.8" r="2.6"/>
<circle cx="253.7" cy="1693.8" r="3.5"/>
<circle cx="253.7" cy="1689.3" r="7.5"/>
<circle cx="253.7" cy="1673.2" r="14.1"/>
<circle cx="253.7" cy="1690.3" r="5.9"/>
<circle cx="253.7" cy="1662.8" r="3.1"/>
<circle cx="253.7" cy="1671.6" r="2.9"/>
<circle cx="253.7" cy="1698" r="3.5"/>
<circle cx="253.7" cy="1670.5" r="3.1"/>
<circle cx="253.7" cy="1679.8" r="3.2"/>
<circle cx="253.7" cy="1662.8" r="8.1"/>
<circle cx="253.7" cy="1692.6" r="5.1"/>
<circle cx="253.7" cy="1671.5" r="2.7"/>
<circle cx="275.3" cy="1695.5" r="3.4"/>
<circle cx="275.3" cy="1685.8" r="9.2"/>
<circle cx="275.3" cy="1678.1" r="7.4"/>
<circle cx="275.3" cy="1695.5" r="3.9"/>
<circle cx="275.3" cy="1686.9" r="2.6"/>
<circle cx="275.3" cy="1694.6" r="3.4"/>
<circle cx="275.3" cy="1660.3" r="7.7"/>
<circle cx="275.3" cy="1671.1" r="3.8"/>
<circle cx="275.3" cy="1685.4" r="2.5"/>
<circle cx="275.3" cy="1675.3" r="3.7"/>
<circle cx="275.3" cy="1675.3" r="3"/>
<circle cx="275.3" cy="1680.3" r="4.6"/>
<circle cx="275.3" cy="1673.7" r="4.5"/>
<circle cx="275.3" cy="1676.4" r="12.7"/>
<circle cx="275.3" cy="1694.9" r="8.1"/>
<circle cx="297" cy="1674.4" r="7.3"/>
<circle cx="297" cy="1678.2" r="2.5"/>
<circle cx="297" cy="1678.6" r="13.1"/>
<circle cx="297" cy="1667.8" r="2.5"/>
<circle cx="297" cy="1657.7" r="8"/>
<circle cx="297" cy="1658.7" r="4.1"/>
<circle cx="297" cy="1678.4" r="15"/>
<circle cx="297" cy="1688.7" r="8.1"/>
<circle cx="297" cy="1682.7" r="12.8"/>
<circle cx="297" cy="1675" r="10.7"/>
<circle cx="297" cy="1659.3" r="8.1"/>
<circle cx="297" cy="1666.4" r="12.9"/>
<circle cx="297" cy="1689.8" r="8.1"/>
<circle cx="297" cy="1659.5" r="8.1"/>
<circle cx="297" cy="1686" r="7.1"/>
<circle cx="318.7" cy="1666.1" r="7.2"/>
<circle cx="318.7" cy="1666.1" r="7.6"/>
<circle cx="318.7" cy="1687.5" r="8.1"/>
<circle cx="318.7" cy="1681.4" r="12.4"/>
<circle cx="318.7" cy="1672.3" r="9.7"/>
<circle cx="318.7" cy="1663" r="7.2"/>
<circle cx="318.7" cy="1655.1" r="2.6"/>
<circle cx="318.7" cy="1681.5" r="10"/>
<circle cx="318.7" cy="1688.4" r="5.8"/>
<circle cx="318.7" cy="1676.6" r="3.4"/>
<circle cx="318.7" cy="1669.7" r="7.7"/>
<circle cx="318.7" cy="1661.6" r="8.1"/>
<circle cx="318.7" cy="1673.7" r="3.9"/>
<circle cx="318.7" cy="1675.4" r="8.7"/>
<circle cx="318.7" cy="1675.8" r="13"/>
<circle cx="340.3" cy="1682.4" r="8.4"/>
<circle cx="340.3" cy="1650.4" r="4.2"/>
<circle cx="340.3" cy="1684.7" r="8.5"/>
<circle cx="340.3" cy="1678.9" r="11"/>
<circle cx="340.3" cy="1688.3" r="8.1"/>
<circle cx="340.3" cy="1684.3" r="7.2"/>
<circle cx="340.3" cy="1664.8" r="4.1"/>
<circle cx="340.3" cy="1684.9" r="11.6"/>
<circle cx="340.3" cy="1686.6" r="11.8"/>
<circle cx="340.3" cy="1665.9" r="3.7"/>
<circle cx="340.3" cy="1650.4" r="3"/>
<circle cx="340.3" cy="1663.5" r="3.3"/>
<circle cx="340.3" cy="1677.6" r="5.1"/>
<circle cx="340.3" cy="1662.7" r="4.1"/>
<circle cx="340.3" cy="1662.6" r="11.6"/>
<circle cx="362" cy="1686.9" r="2.6"/>
<circle cx="362" cy="1669.9" r="2.5"/>
<circle cx="362" cy="1674.4" r="9.2"/>
<circle cx="362" cy="1668.7" r="7.1"/>
<circle cx="362" cy="1662.6" r="2.5"/>
<circle cx="362" cy="1692.6" r="2.8"/>
<circle cx="362" cy="1668.6" r="11.4"/>
<circle cx="362" cy="1672.5" r="3.4"/>
<circle cx="362" cy="1674.4" r="7.9"/>
<circle cx="362" cy="1675" r="5.4"/>
<circle cx="362" cy="1657.6" r="11"/>
<circle cx="362" cy="1656.7" r="8.1"/>
<circle cx="362" cy="1667.9" r="5.8"/>
<circle cx="362" cy="1663.1" r="3.1"/>
<circle cx="362" cy="1687.4" r="8.1"/>
<circle cx="383.6" cy="1670.1" r="3.1"/>
<circle cx="383.6" cy="1667.2" r="9"/>
<circle cx="383.6" cy="1681.8" r="6.4"/>
<circle cx="383.6" cy="1651.3" r="4.8"/>
<circle cx="383.6" cy="1653.5" r="8.1"/>
<circle cx="383.6" cy="1674" r="13.5"/>
<circle cx="383.6" cy="1665.7" r="9.5"/>
<circle cx="383.6" cy="1679.6" r="7.9"/>
<circle cx="383.6" cy="1680.2" r="13"/>
<circle cx="383.6" cy="1656" r="12.4"/>
<circle cx="383.6" cy="1681.7" r="10.8"/>
<circle cx="383.6" cy="1683.7" r="8.1"/>
<circle cx="383.6" cy="1663.7" r="3.2"/>
<circle cx="383.6" cy="1664.5" r="8.1"/>
<circle cx="383.6" cy="1645.2" r="8.1"/>
<circle cx="405.3" cy="1673.3" r="14.6"/>
<circle cx="405.3" cy="1687.4" r="8.1"/>
<circle cx="405.3" cy="1642.6" r="4.1"/>
<circle cx="405.3" cy="1660.7" r="13"/>
<circle cx="405.3" cy="1674.4" r="2.6"/>
<circle cx="405.3" cy="1656.2" r="5.4"/>
<circle cx="405.3" cy="1643.7" r="5.9"/>
<circle cx="405.3" cy="1659" r="2.5"/>
<circle cx="405.3" cy="1668.3" r="10.9"/>
<circle cx="405.3" cy="1661.7" r="3"/>
<circle cx="405.3" cy="1653.9" r="2.9"/>
<circle cx="405.3" cy="1687.4" r="2.9"/>
<circle cx="405.3" cy="1644.1" r="8.1"/>
<circle cx="405.3" cy="1664.1" r="8.9"/>
<circle cx="405.3" cy="1681.8" r="8.1"/>
<circle cx="426.9" cy="1658.4" r="2.7"/>
<circle cx="426.9" cy="1666.9" r="3.8"/>
<circle cx="426.9" cy="1680.7" r="8.1"/>
<circle cx="426.9" cy="1652.9" r="11.7"/>
<circle cx="426.9" cy="1650.8" r="6.9"/>
<circle cx="426.9" cy="1658.7" r="11.7"/>
<circle cx="426.9" cy="1676.5" r="12.9"/>
<circle cx="426.9" cy="1670.9" r="14.3"/>
<circle cx="426.9" cy="1684.8" r="6.4"/>
<circle cx="426.9" cy="1655.4" r="6.6"/>
<circle cx="448.6" cy="1657.1" r="6.1"/>
<circle cx="448.6" cy="1658.6" r="14.3"/>
<circle cx="448.6" cy="1659.2" r="6.3"/>
<circle cx="448.6" cy="1640.8" r="6.9"/>
<circle cx="448.6" cy="1676" r="6"/>
<circle cx="448.6" cy="1659.4" r="6.6"/>
<circle cx="448.6" cy="1656.4" r="5.1"/>
<circle cx="448.6" cy="1682.3" r="3.7"/>
<circle cx="448.6" cy="1652.8" r="5.8"/>
<circle cx="448.6" cy="1671.7" r="11.2"/>
<circle cx="470.3" cy="1669.4" r="12.9"/>
<circle cx="470.3" cy="1646.6" r="3.1"/>
<circle cx="470.3" cy="1660.5" r="7.8"/>
<circle cx="470.3" cy="1665.2" r="10.5"/>
<circle cx="470.3" cy="1655.3" r="2.5"/>
<circle cx="470.3" cy="1662.1" r="8.9"/>
<circle cx="470.3" cy="1668.1" r="4.1"/>
<circle cx="470.3" cy="1646.7" r="2.7"/>
<circle cx="470.3" cy="1674" r="8.1"/>
<circle cx="470.3" cy="1670.7" r="3.5"/>
<circle cx="491.9" cy="1667.7" r="3.2"/>
<circle cx="491.9" cy="1641.3" r="4.6"/>
<circle cx="491.9" cy="1653.2" r="5"/>
<circle cx="491.9" cy="1648" r="3.2"/>
<circle cx="491.9" cy="1654.6" r="8"/>
<circle cx="491.9" cy="1645" r="11.9"/>
<circle cx="491.9" cy="1642.9" r="7.7"/>
<circle cx="491.9" cy="1662.4" r="9.8"/>
<circle cx="491.9" cy="1648.1" r="11.1"/>
<circle cx="491.9" cy="1666.1" r="4.1"/>
<circle cx="513.6" cy="1646.5" r="13.3"/>
<circle cx="513.6" cy="1663.5" r="12.6"/>
<circle cx="513.6" cy="1674.5" r="2.8"/>
<circle cx="513.6" cy="1655" r="3.6"/>
<circle cx="513.6" cy="1674.5" r="2.7"/>
<circle cx="535.2" cy="1658.1" r="10.7"/>
<circle cx="535.2" cy="1638.2" r="2.8"/>
<circle cx="535.2" cy="1633.5" r="2.5"/>
<circle cx="535.2" cy="1663.1" r="3.2"/>
<circle cx="535.2" cy="1638.2" r="14.3"/>
<circle cx="556.9" cy="1624.5" r="2.8"/>
<circle cx="556.9" cy="1624.7" r="6.1"/>
<circle cx="556.9" cy="1647.5" r="8.8"/>
<circle cx="556.9" cy="1650.3" r="2.7"/>
<circle cx="556.9" cy="1653.3" r="2.5"/>
<circle cx="167.1" cy="1680.1" r="13.6"/>
<circle cx="167.1" cy="1684.6" r="10.3"/>
</g>
<line x1="167.1" y1="1820.8" x2="1076.7" y2="1103.8" stroke="#b22222" stroke-width="6.05" stroke-dasharray="6.3 2.77"/>
<line x1="167.1" y1="1694.9" x2="1076.7" y2="1586.2" stroke="#250357" stroke-width="5.9" stroke-linecap="square"/>
<rect x="122.1" y="1087.4" width="999.9" height="784.2" fill="none" stroke="#000" stroke-width="1.7"/>
<g class="tk" text-anchor="middle">
<text transform="translate(145.7,1911.4) scale(1,1.012)">0</text>
<text transform="translate(254,1911.4) scale(1,1.012)">5</text>
<text transform="translate(362.3,1911.4) scale(1,1.012)">10</text>
<text transform="translate(470.6,1911.4) scale(1,1.012)">15</text>
<text transform="translate(578.8,1911.4) scale(1,1.012)">20</text>
<text transform="translate(687.1,1911.4) scale(1,1.012)">25</text>
<text transform="translate(795.4,1911.4) scale(1,1.012)">30</text>
<text transform="translate(903.7,1911.4) scale(1,1.012)">35</text>
<text transform="translate(1012,1911.4) scale(1,1.012)">40</text>
</g>
<g class="tk" text-anchor="end">
<text transform="translate(110.5,1852.5) scale(1,1.04)">0</text>
<text transform="translate(110.5,1681.8) scale(1,1.04)">10</text>
<text transform="translate(110.5,1511.1) scale(1,1.04)">20</text>
<text transform="translate(110.5,1340.5) scale(1,1.04)">30</text>
<text transform="translate(110.5,1169.8) scale(1,1.04)">40</text>
</g>
<g class="lb">
<text x="320.6" y="1980.5">Distance between</text>
<text x="677" y="1980.5" class="it">S</text>
<text x="700.6" y="1987.3" class="sub">1</text>
<text x="731.5" y="1980.5">and</text>
<text x="816.3" y="1980.5" class="it">S</text>
<text x="839.9" y="1987.3" class="sub it">i</text>
<text x="848" y="1980.5">,</text>
<text x="873.1" y="1980.5" class="it">d</text>
<text x="897.5" y="1987.3" class="sub">1</text>
<text x="914.2" y="1987.3" class="sub it">i</text>
</g>
<g class="lb" transform="translate(34.8,1561.8) rotate(-90)">
<text x="-0.8" y="0" class="it">E</text>
<text x="23.9" y="0">[</text>
<text x="38.7" y="0" class="it">L</text>
<text x="60.1" y="6.2" class="sub it">i</text>
<text x="68.3" y="0">]</text>
<text x="91.3" y="0">≈</text>
<text x="130.6" y="0" class="it">μ</text>
<text x="155.8" y="6.2" class="sub it">i</text>
<text x="137" y="-1.9" class="hat">ˆ</text>
</g>
<rect x="488.8" y="1019.1" width="187.2" height="63.3" fill="#fff" stroke="#000" stroke-width="2.4"/>
<text class="tt" x="535" y="1064.1">Seoul</text>
<text class="lg" x="211.7" y="1147">Number of journeys</text>
<g fill="none" stroke="#000" stroke-width="2.35">
<circle cx="272" cy="1206.4" r="25.1"/>
<circle cx="272.1" cy="1226.1" r="4.7"/>
<line x1="272" y1="1181.3" x2="333.5" y2="1181.3"/>
<line x1="272" y1="1220.6" x2="333.5" y2="1220.6"/>
</g>
<text class="lg" x="352.3" y="1189.6">102519</text>
<text class="lg" x="352.3" y="1228.9">142</text>
<rect x="152.3" y="1256.1" width="368.4" height="207.6" rx="4.5" fill="#f2f2f2" stroke="#e6e6e6" stroke-width="1.2"/>
<line x1="165" y1="1280.7" x2="230.5" y2="1280.7" stroke="#b22222" stroke-width="6.1" stroke-dasharray="6.3 2.72"/>
<line x1="162.3" y1="1319.4" x2="233.2" y2="1319.4" stroke="#250357" stroke-width="6.2"/>
<rect x="165" y="1348.8" width="65.4" height="19" fill="#250357" fill-opacity="0.5"/>
<rect x="165" y="1387.6" width="65.4" height="19" fill="#250357" fill-opacity="0.1"/>
<circle cx="197.6" cy="1435.8" r="17.6" fill="none" stroke="#250357" stroke-width="1.7"/>
<g class="lg">
<text x="251.1" y="1289.2" class="it">E</text>
<text x="267.1" y="1289.2">[</text>
<text x="277.8" y="1289.2" class="it">L</text>
<text x="292" y="1293.5" class="sub2 it">i</text>
<text x="298.5" y="1289.2">]</text>
<text x="313.4" y="1289.2">=</text>
<text x="340.5" y="1289.2" class="it">d</text>
<text x="357.6" y="1293.5" class="sub2">1</text>
<text x="368.9" y="1293.5" class="sub2 it">i</text>
</g>
<text class="lg" x="250.9" y="1328.8">Regression line</text>
<text class="lg" x="250.9" y="1367.5">Confidence interval</text>
<text class="lg" x="250.9" y="1406.3">Prediction interval</text>
<text class="lg" x="250.9" y="1445">Observed</text>
</g>
</svg>
</body>
</html>
